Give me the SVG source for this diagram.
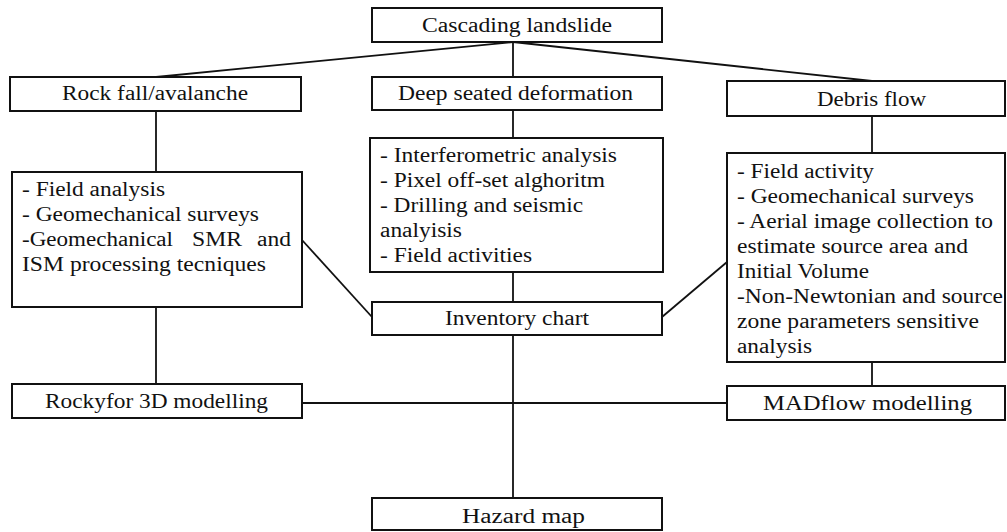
<svg xmlns="http://www.w3.org/2000/svg" width="1007" height="532" viewBox="0 0 1007 532">
<style>
.box{fill:#fff;stroke:#111;stroke-width:2}
.ln{stroke:#111;stroke-width:1.8;fill:none}
text{font-family:"Liberation Serif","Times New Roman",serif;font-size:20px;fill:#111}
</style>
<rect width="1007" height="532" fill="#fff"/>
<g id="connectors">
<line class="ln" x1="513" y1="42" x2="156" y2="77"/>
<line class="ln" x1="513" y1="42" x2="513" y2="77"/>
<line class="ln" x1="513" y1="42" x2="872" y2="81"/>
<line class="ln" x1="156" y1="111" x2="156" y2="172"/>
<line class="ln" x1="513" y1="110" x2="513" y2="138"/>
<line class="ln" x1="872" y1="116" x2="872" y2="153"/>
<line class="ln" x1="302" y1="240" x2="372" y2="317"/>
<line class="ln" x1="662" y1="317" x2="727" y2="262"/>
<line class="ln" x1="513" y1="272" x2="513" y2="302"/>
<line class="ln" x1="156" y1="307" x2="156" y2="384"/>
<line class="ln" x1="513" y1="335" x2="513" y2="498"/>
<line class="ln" x1="302" y1="403" x2="727" y2="403"/>
<line class="ln" x1="872" y1="362" x2="872" y2="386"/>
</g>
<g id="cascading">
<rect class="box" x="372" y="8" width="290" height="34"/>
<text x="422" y="32" textLength="190" lengthAdjust="spacingAndGlyphs">Cascading landslide</text>
</g>
<g id="rockfall">
<rect class="box" x="10" y="77" width="291" height="34"/>
<text x="62" y="100" textLength="186" lengthAdjust="spacingAndGlyphs">Rock fall/avalanche</text>
</g>
<g id="deepseated">
<rect class="box" x="372" y="77" width="290" height="33"/>
<text x="398" y="100" textLength="235" lengthAdjust="spacingAndGlyphs">Deep seated deformation</text>
</g>
<g id="debrisflow">
<rect class="box" x="727" y="81" width="278" height="35"/>
<text x="817" y="106" textLength="109" lengthAdjust="spacingAndGlyphs">Debris flow</text>
</g>
<g id="rockfall-methods">
<rect class="box" x="12" y="172" width="290" height="135"/>
<text x="22" y="196" textLength="143" lengthAdjust="spacingAndGlyphs">- Field analysis</text>
<text x="22" y="221" textLength="237" lengthAdjust="spacingAndGlyphs">- Geomechanical surveys</text>
<text x="22" y="246" textLength="151" lengthAdjust="spacingAndGlyphs">-Geomechanical</text>
<text x="192" y="246" textLength="50" lengthAdjust="spacingAndGlyphs">SMR</text>
<text x="257" y="246" textLength="34" lengthAdjust="spacingAndGlyphs">and</text>
<text x="22" y="271" textLength="244" lengthAdjust="spacingAndGlyphs">ISM processing tecniques</text>
</g>
<g id="deep-methods">
<rect class="box" x="370" y="138" width="293" height="134"/>
<text x="380" y="162" textLength="237" lengthAdjust="spacingAndGlyphs">- Interferometric analysis</text>
<text x="380" y="187" textLength="225" lengthAdjust="spacingAndGlyphs">- Pixel off-set alghoritm</text>
<text x="380" y="212" textLength="203" lengthAdjust="spacingAndGlyphs">- Drilling and seismic</text>
<text x="380" y="237" textLength="82" lengthAdjust="spacingAndGlyphs">analyisis</text>
<text x="380" y="262" textLength="152" lengthAdjust="spacingAndGlyphs">- Field activities</text>
</g>
<g id="debris-methods">
<rect class="box" x="727" y="153" width="278" height="209"/>
<text x="737" y="178" textLength="137" lengthAdjust="spacingAndGlyphs">- Field activity</text>
<text x="737" y="203" textLength="237" lengthAdjust="spacingAndGlyphs">- Geomechanical surveys</text>
<text x="737" y="228" textLength="256" lengthAdjust="spacingAndGlyphs">- Aerial image collection to</text>
<text x="737" y="253" textLength="231" lengthAdjust="spacingAndGlyphs">estimate source area and</text>
<text x="737" y="278" textLength="132" lengthAdjust="spacingAndGlyphs">Initial Volume</text>
<text x="737" y="303" textLength="266" lengthAdjust="spacingAndGlyphs">-Non-Newtonian and source</text>
<text x="737" y="328" textLength="242" lengthAdjust="spacingAndGlyphs">zone parameters sensitive</text>
<text x="737" y="353" textLength="75" lengthAdjust="spacingAndGlyphs">analysis</text>
</g>
<g id="inventory">
<rect class="box" x="372" y="302" width="290" height="33"/>
<text x="445" y="325" textLength="144" lengthAdjust="spacingAndGlyphs">Inventory chart</text>
</g>
<g id="rockyfor">
<rect class="box" x="12" y="384" width="290" height="34"/>
<text x="45" y="408" textLength="223" lengthAdjust="spacingAndGlyphs">Rockyfor 3D modelling</text>
</g>
<g id="madflow">
<rect class="box" x="727" y="386" width="278" height="34"/>
<text x="763" y="410" textLength="209" lengthAdjust="spacingAndGlyphs">MADflow modelling</text>
</g>
<g id="hazard">
<rect class="box" x="372" y="498" width="290" height="32"/>
<text x="462" y="523" textLength="123" lengthAdjust="spacingAndGlyphs">Hazard map</text>
</g>
</svg>
